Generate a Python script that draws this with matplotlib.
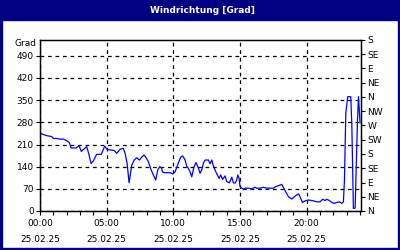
import numpy as np
import matplotlib
matplotlib.use("Agg")
import matplotlib.pyplot as plt
from matplotlib.patches import Rectangle

# Windrichtung ueber den Tag (Stunden seit 00:00, Grad)
hours = [0.0, 0.15, 0.5, 0.88, 1.0, 1.25, 1.5, 1.75, 2.0, 2.2, 2.33, 2.7, 2.93, 3.1, 3.3, 3.5, 3.65, 3.83,
         4.0, 4.25, 4.6, 4.85, 5.05, 5.25, 5.57, 5.75, 6.0, 6.25, 6.38, 6.53, 6.68, 6.88, 7.07, 7.25, 7.45,
         7.63, 7.8, 7.93, 8.12, 8.33, 8.53, 8.68, 8.83, 8.98, 9.13, 9.17, 9.32, 9.75, 9.95, 10.13, 10.37,
         10.55, 10.7, 10.88, 11.0, 11.12, 11.25, 11.38, 11.55, 11.7, 11.88, 12.0, 12.13, 12.25, 12.38,
         12.63, 12.75, 12.88, 13.0, 13.18, 13.3, 13.43, 13.55, 13.7, 13.88, 14.0, 14.2, 14.38, 14.5, 14.63,
         14.75, 14.83, 14.93, 15.0, 15.13, 15.25, 15.38, 15.63, 15.88, 16.13, 16.25, 16.5, 16.75, 17.0,
         17.25, 17.5, 17.68, 17.88, 18.13, 18.38, 18.63, 18.88, 19.13, 19.38, 19.5, 19.68, 19.88, 20.13,
         20.5, 20.75, 21.0, 21.2, 21.38, 21.5, 21.7, 21.88, 22.05, 22.25, 22.45, 22.63, 22.75, 22.83,
         22.93, 23.08, 23.3, 23.38, 23.5, 23.63, 23.8, 23.88, 24.0]
grad = [249, 243, 238, 235, 229, 229, 227, 227, 222, 216, 199, 199, 206, 188, 196, 203, 182, 150,
        158, 179, 179, 205, 193, 193, 191, 182, 195, 198, 182, 151, 89, 145, 161, 168, 161,
        170, 177, 170, 156, 130, 111, 98, 130, 140, 135, 124, 121, 121, 117, 124, 151,
        170, 174, 161, 142, 135, 124, 108, 140, 153, 135, 119, 130, 151, 161,
        161, 149, 161, 142, 124, 114, 103, 114, 100, 111, 93, 89, 107, 89, 88,
        98, 114, 103, 77, 72, 69, 72, 72, 70, 75, 72, 72, 75, 72,
        72, 72, 77, 80, 84, 64, 45, 38, 47, 54, 45, 27, 32, 35,
        32, 29, 29, 37, 33, 37, 33, 27, 24, 27, 29, 24, 29, 98,
        309, 361, 361, 277, 8, 9, 278, 361, 278]

left_ticks = [0, 70, 140, 210, 280, 350, 420, 490]
right_ticks = [0, 45, 90, 135, 180, 225, 270, 315, 360, 405, 450, 495, 540]
right_labels = ['N', 'NE', 'E', 'SE', 'S', 'SW', 'W', 'NW', 'N', 'NE', 'E', 'SE', 'S']
x_ticks = [0, 5, 10, 15, 20]
x_labels = ['00:00\n25.02.25', '05:00\n25.02.25', '10:00\n25.02.25', '15:00\n25.02.25', '20:00\n25.02.25']

navy = '#000080'
plt.rcParams['font.family'] = 'DejaVu Sans'
plt.rcParams['font.size'] = 6.5

fig = plt.figure(figsize=(4, 2.5), dpi=100)
fig.patch.set_facecolor('white')

# Titelbalken und Rahmen
fig.patches.append(Rectangle((0, 0.92), 1, 0.08, transform=fig.transFigure, color=navy, zorder=0))
fig.patches.append(Rectangle((0, 0), 0.005, 1, transform=fig.transFigure, color=navy, zorder=0))
fig.patches.append(Rectangle((0.995, 0), 0.005, 1, transform=fig.transFigure, color=navy, zorder=0))
fig.patches.append(Rectangle((0, 0), 1, 0.008, transform=fig.transFigure, color=navy, zorder=0))
fig.text(0.507, 0.959, 'Windrichtung [Grad]', color='white', fontsize=6.5, fontweight='bold',
         ha='center', va='center')

ax = fig.add_axes([0.1, 0.156, 0.8025, 0.684])
ax.plot(hours, grad, color='#0000ff', lw=0.9, zorder=3)
ax.set_xlim(0, 24.07)
ax.set_ylim(0, 540)

ax.set_yticks(left_ticks)
ax.set_xticks(x_ticks)
ax.set_xticklabels(x_labels, linespacing=2.0)
ax.set_xticks(np.arange(0, 25, 1), minor=True)
ax.tick_params(axis='both', which='both', direction='out', length=3, width=0.8, pad=1.5, colors='black')
ax.tick_params(axis='x', which='major', pad=3)
ax.grid(True, which='major', color='black', linestyle=(0, (3, 3)), linewidth=0.9)
for s in ax.spines.values():
    s.set_linewidth(1.0)
ax.text(-0.01, 1.005, 'Grad', transform=ax.transAxes, ha='right', va='top')

ax2 = ax.twinx()
ax2.set_ylim(0, 540)
ax2.set_yticks(right_ticks)
ax2.set_yticklabels(right_labels)
ax2.tick_params(axis='y', direction='out', length=3, width=0.8, pad=1.5)

fig.savefig('out.png', dpi=100, facecolor='white')
